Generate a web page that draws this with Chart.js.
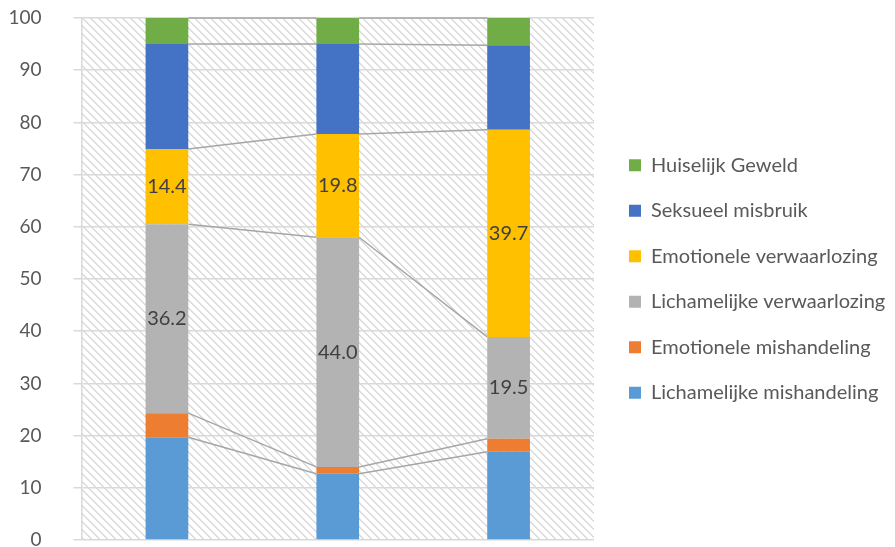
<!DOCTYPE html>
<html><head><meta charset="utf-8">
<script src="https://cdn.jsdelivr.net/npm/chart.js@4"></script>
<style>html,body{margin:0;padding:0;background:#fff;overflow:hidden}</style>
</head><body>
<canvas id="c" width="895" height="547"></canvas>
<script>
// ---- data ----
const categories = ['Groep 1', 'Groep 2', 'Groep 3'];
const lichamelijkeMishandeling = [19.7, 12.7, 16.9];
const emotioneleMishandeling = [4.6, 1.3, 2.5];
const lichamelijkeVerwaarlozing = [36.2, 44.0, 19.5];
const emotioneleVerwaarlozing = [14.4, 19.8, 39.7];
const seksueelMisbruik = [20.1, 17.2, 16.2];
const huiselijkGeweld = [5.0, 5.0, 5.2];
const yMin = 0, yMax = 100, yStep = 10;

// ---- styling ----
const FONT = 'Lato';
const seriesDefs = [
  ['Lichamelijke mishandeling', lichamelijkeMishandeling, '#5B9BD5', false],
  ['Emotionele mishandeling', emotioneleMishandeling, '#ED7D31', false],
  ['Lichamelijke verwaarlozing', lichamelijkeVerwaarlozing, '#B3B3B3', true],
  ['Emotionele verwaarlozing', emotioneleVerwaarlozing, '#FFC000', true],
  ['Seksueel misbruik', seksueelMisbruik, '#4472C4', false],
  ['Huiselijk Geweld', huiselijkGeweld, '#70AD47', false]
];

const pc = document.createElement('canvas');
pc.width = 8; pc.height = 8;
const pg = pc.getContext('2d');
pg.fillStyle = '#ffffff'; pg.fillRect(0, 0, 8, 8);
pg.fillStyle = '#dcdcdc';
for (let y = 0; y < 8; y++) for (let x = 0; x < 8; x++) {
  const d = ((x - y) % 8 + 8) % 8;
  if (d < 2) pg.fillRect(x, y, 1, 1);
}

const hatchPlugin = {
  id: 'hatch',
  beforeLayout(chart) {
    const lg = chart.legend;
    if (lg && !lg._fixedWidth) {
      const orig = lg.fit.bind(lg);
      lg.fit = function () { orig(); this.width = 291.5; };
      lg._fixedWidth = true;
    }
  },
  beforeDraw(chart) {
    const {ctx, chartArea: a} = chart;
    ctx.save();
    ctx.fillStyle = ctx.createPattern(pc, 'repeat');
    ctx.fillRect(a.left, a.top, a.right - a.left, a.bottom - a.top);
    ctx.restore();
  }
};

const seriesLinesPlugin = {
  id: 'seriesLines',
  beforeDatasetsDraw(chart) {
    const ctx = chart.ctx;
    ctx.save();
    ctx.strokeStyle = '#A6A6A6';
    ctx.lineWidth = 1.5;
    chart.data.datasets.forEach((ds, di) => {
      const els = chart.getDatasetMeta(di).data;
      for (let i = 0; i < els.length - 1; i++) {
        const a = els[i], b = els[i + 1];
        ctx.beginPath();
        ctx.moveTo(a.x + a.width / 2, a.y);
        ctx.lineTo(b.x - b.width / 2, b.y);
        ctx.stroke();
      }
    });
    ctx.restore();
  }
};

const labelPlugin = {
  id: 'valueLabels',
  afterDatasetsDraw(chart) {
    const ctx = chart.ctx;
    ctx.save();
    ctx.font = '20px ' + FONT;
    ctx.fillStyle = '#404040';
    ctx.textAlign = 'center';
    ctx.textBaseline = 'middle';
    chart.data.datasets.forEach((ds, di) => {
      if (!seriesDefs[di][3]) return;
      chart.getDatasetMeta(di).data.forEach((el, i) => {
        ctx.fillText(ds.data[i].toFixed(1), el.x, (el.y + el.base) / 2);
      });
    });
    ctx.restore();
  }
};

new Chart(document.getElementById('c'), {
  type: 'bar',
  data: {
    labels: categories,
    datasets: seriesDefs.map(([name, vals, color]) => ({
      label: name,
      data: vals,
      backgroundColor: color,
      borderWidth: 0,
      categoryPercentage: 1,
      barPercentage: 0.25
    }))
  },
  options: {
    responsive: false,
    animation: false,
    devicePixelRatio: 1,
    layout: {padding: {top: 18, bottom: 7, left: 0, right: 0}},
    scales: {
      x: {stacked: true, display: false},
      y: {
        stacked: true, min: yMin, max: yMax,
        ticks: {stepSize: yStep, color: '#595959', font: {family: FONT, size: 19}, padding: 32},
        grid: {color: '#D9D9D9', lineWidth: 1.5, tickLength: 8},
        border: {display: true, color: '#D9D9D9', width: 1.5},
        afterFit(s) { s.width = 81.5; s.paddingTop = 0; s.paddingBottom = 0; }
      },
      yR: {
        position: 'right', display: true,
        grid: {display: false}, ticks: {display: false}, border: {display: false},
        afterFit(s) { s.width = 9.5; s.paddingTop = 0; s.paddingBottom = 0; }
      }
    },
    plugins: {
      legend: {
        position: 'right',
        reverse: true,
        labels: {
          font: {family: FONT, size: 20},
          color: '#595959',
          boxWidth: 12, boxHeight: 12,
          padding: 25.5
        }
      },
      tooltip: {enabled: false}
    }
  },
  plugins: [hatchPlugin, seriesLinesPlugin, labelPlugin]
});
</script>
</body></html>
